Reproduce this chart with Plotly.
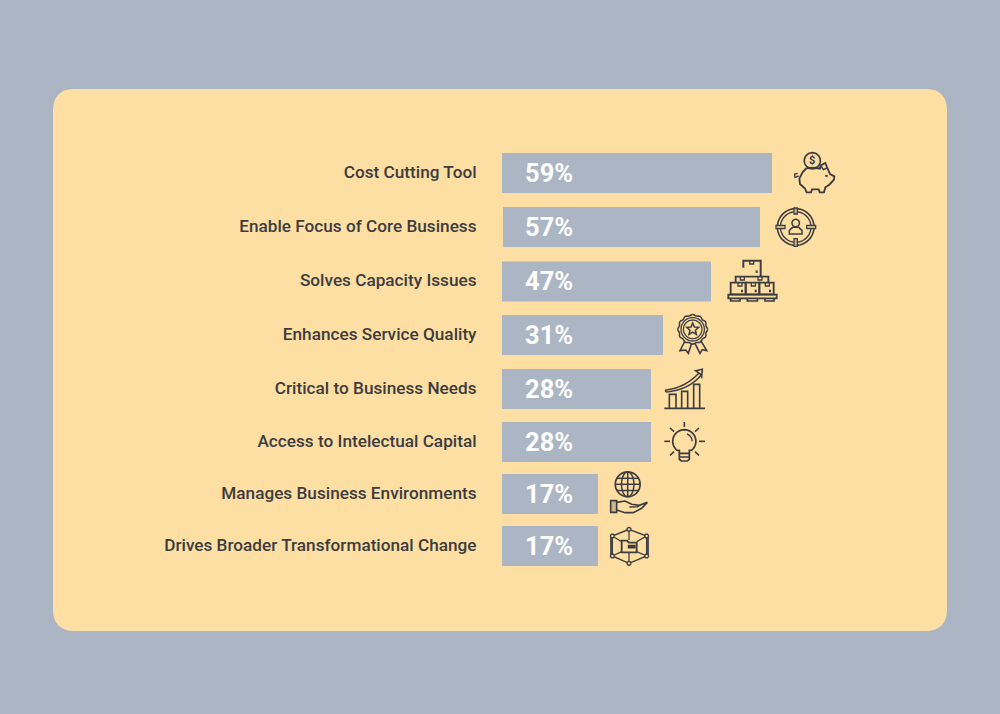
import math
import plotly.graph_objects as go

# ---- chart data ----
categories = ["Cost Cutting Tool", "Enable Focus of Core Business", "Solves Capacity Issues",
              "Enhances Service Quality", "Critical to Business Needs", "Access to Intelectual Capital",
              "Manages Business Environments", "Drives Broader Transformational Change"]
percent_labels = ["59%", "57%", "47%", "31%", "28%", "28%", "17%", "17%"]
# The bars in the picture are hand drawn and not proportional to their labels: drawn length
bar_lengths = [270, 257, 209, 161, 149, 149, 96, 96]
bar_starts = [0, 1, 0, 0, 0, 0, 0, 0]
row_centres = [173, 227, 281.5, 335, 389, 442, 494, 546]

BG = "#ACB5C4"
PANEL = "#FEDFA3"
INK = "#3C3C40"
W, H = 1000, 714


def pt(x, y):
    return f"{x / W:.5f},{1 - y / H:.5f}"


def poly(points, closed=False):
    d = "M" + " L".join(pt(x, y) for x, y in points)
    return d + (" Z" if closed else "")


def quad(p0, c, p1, n=16):
    out = []
    for i in range(n + 1):
        t = i / n
        out.append(((1 - t) ** 2 * p0[0] + 2 * t * (1 - t) * c[0] + t * t * p1[0],
                    (1 - t) ** 2 * p0[1] + 2 * t * (1 - t) * c[1] + t * t * p1[1]))
    return out


def ellipse(cx, cy, rx, ry=None, a0=0, a1=360, n=48):
    ry = rx if ry is None else ry
    return [(cx + rx * math.cos(math.radians(a0 + (a1 - a0) * i / n)),
             cy + ry * math.sin(math.radians(a0 + (a1 - a0) * i / n))) for i in range(n + 1)]


shapes = []


def panel():
    x0, x1, y0, y1, r = 53, 947, 89, 631, 22
    d = ("M" + pt(x0 + r, y0) + " L" + pt(x1 - r, y0) + " Q" + pt(x1, y0) + " " + pt(x1, y0 + r)
         + " L" + pt(x1, y1 - r) + " Q" + pt(x1, y1) + " " + pt(x1 - r, y1)
         + " L" + pt(x0 + r, y1) + " Q" + pt(x0, y1) + " " + pt(x0, y1 - r)
         + " L" + pt(x0, y0 + r) + " Q" + pt(x0, y0) + " " + pt(x0 + r, y0) + " Z")
    shapes.append(dict(type="path", xref="paper", yref="paper", path=d, fillcolor=PANEL,
                       line_width=0, layer="below"))


def stroke(points, w=1.6, closed=False, fill=None):
    shapes.append(dict(type="path", xref="paper", yref="paper", path=poly(points, closed),
                       line=dict(color=INK, width=w * 1.15), fillcolor=fill if fill else "rgba(0,0,0,0)",
                       layer="above"))


def icons():
    # --- piggy bank (zoom-crop coords, origin 770,148, scale 3)
    Z = lambda L, ox=770, oy=148: [(ox + a / 3, oy + b / 3) for a, b in L]
    stroke(Z([(110, 60), (98, 72), (88, 92), (90, 108), (105, 122), (110, 133), (123, 133), (126, 124),
              (146, 124), (149, 133), (162, 133), (166, 118), (178, 110), (192, 95), (193, 85), (180, 78),
              (172, 60), (166, 45), (152, 52), (150, 62), (140, 60)]))
    stroke(Z([(110, 60), (143, 60)]), 2)
    stroke(Z([(152, 52), (160, 65), (172, 60)]), 1.2)
    stroke(Z([(86, 84), (75, 88), (74, 78), (83, 76)]), 1.2)
    stroke(Z([(166, 82), (173, 85)]), 1.6)
    stroke(ellipse(812.3, 160.7, 8.0), 1.5)
    # --- target with person
    stroke(ellipse(795.7, 227, 18.3), 1.4)
    stroke(ellipse(795.7, 227, 15.3), 1.2)
    stroke(ellipse(795.7, 223, 3.7), 1.3)
    stroke(Z([(58, 258), (58, 247), (68, 238), (86, 238), (96, 247), (96, 258)], 770, 148), 1.3, True)
    for r in [(72, 180, 82, 198), (72, 272, 82, 295), (18, 232, 45, 242), (110, 232, 137, 242)]:
        stroke(Z([(r[0], r[1]), (r[2], r[1]), (r[2], r[3]), (r[0], r[3])]), 1.1, True, "#C9B58E")
    # --- boxes on a pallet (origin 670,255)
    B = lambda L: Z(L, 670, 255)
    stroke(B([(220, 38), (220, 17), (272, 17), (272, 65)]), 1.7)
    stroke(B([(197, 82), (197, 65), (295, 65), (295, 82)]), 1.6)
    for a, b in [(182, 227), (227, 268), (268, 311)]:
        stroke(B([(a, 83), (b, 83), (b, 118), (a, 118)]), 1.6, True)
    stroke(B([(175, 119), (320, 119), (320, 130), (175, 130)]), 1.6, True)
    for a, b in [(182, 210), (232, 262), (285, 312)]:
        stroke(B([(a, 130), (a, 138), (b, 138), (b, 130)]), 1.5)
    for a in [245, 217, 270, 210, 250, 292]:
        top = 17 if a == 245 else 65 if a in (217, 270) else 83
        stroke(B([(a - 6, top), (a - 6, top + 10), (a + 6, top + 10), (a + 6, top)]), 1.1)
    for a, b in [(260, 50), (216, 108), (257, 108), (300, 108)]:
        stroke(B([(a - 3, b), (a + 3, b)]), 2.2)
    # --- award rosette
    cx, cy = 692.7, 329.3
    scallop = [(cx + (14.3 + 0.6 * math.cos(math.radians(12 * a))) * math.cos(math.radians(a)),
                cy + (14.3 + 0.6 * math.cos(math.radians(12 * a))) * math.sin(math.radians(a)))
               for a in range(0, 361, 5)]
    stroke(scallop, 1.3)
    stroke(ellipse(cx, cy, 11.7), 1.1)
    stroke(ellipse(cx, cy, 9.3), 1.1)
    star = []
    for i in range(10):
        r = 6.3 if i % 2 == 0 else 2.9
        star.append((cx + r * math.sin(math.radians(36 * i)), cy - r * math.cos(math.radians(36 * i))))
    stroke(star, 1.3, True)
    stroke(B([(45, 258), (30, 287), (47, 285), (55, 295), (65, 265)]), 1.4)
    stroke(B([(75, 265), (90, 295), (97, 284), (110, 287), (92, 256)]), 1.4)
    # --- growth chart (origin 655,362)
    C = lambda L: Z(L, 655, 362)
    stroke(C([(28, 139), (150, 139)]), 1.5)
    for a, t, b in [(43, 97, 63), (80, 88, 98), (116, 67, 134)]:
        stroke(C([(a, 139), (a, t), (b, t), (b, 139)]), 1.4)
    stroke(C(quad((31, 84), (90, 78), (132, 33))), 1.3)
    stroke(C(quad((33, 90), (100, 84), (138, 40))), 1.3)
    stroke(C([(31, 84), (33, 90)]), 1.3)
    stroke(C([(122, 26), (142, 22), (140, 44), (136, 36), (129, 31)]), 1.4, True)
    # --- light bulb
    bx, by = 684.3, 441.3
    stroke(C([(73, 274), (73, 265)]) + [(bx + 11.6 * math.cos(math.radians(a)), by + 11.6 * math.sin(math.radians(a)))
                                         for a in range(130, 411, 10)] + C([(103, 265), (103, 274)]), 1.5)
    stroke(C([(73, 274), (103, 274), (103, 292), (97, 297), (79, 297), (73, 292)]), 1.5, True)
    stroke(C([(73, 285), (103, 285)]), 1.3)
    stroke(ellipse(bx, by, 7.8, a0=-70, a1=0, n=10), 1.2)
    for p, q in [((88, 180), (88, 195)), ((45, 198), (57, 209)), ((132, 198), (120, 209)),
                 ((28, 238), (45, 238)), ((132, 238), (150, 238)), ((45, 280), (57, 269)), ((132, 280), (120, 269))]:
        stroke(C([p, q]), 1.4)
    # --- globe in hand (origin 600,470)
    G = lambda L: Z(L, 600, 470)
    gx, gy = 627.7, 484.3
    stroke(ellipse(gx, gy, 12.4), 1.5)
    stroke(ellipse(gx, gy, 6.2, 12.4), 1.3)
    stroke([(gx, gy - 12.4), (gx, gy + 12.4)], 1.3)
    for dy, hw in [(-6, 10.8), (0, 12.4), (6.2, 10.8)]:
        stroke([(gx - hw, gy + dy), (gx + hw, gy + dy)], 1.3)
    stroke(G([(32, 92), (50, 92), (50, 127), (32, 127)]), 1.4, True, "#C9B58E")
    stroke(G([(50, 97), (75, 93), (95, 103), (118, 106), (142, 97), (125, 115), (100, 128), (75, 128), (50, 120)]), 1.4)
    stroke(G([(88, 111), (112, 110), (118, 106)]), 1.3)
    # --- network with folder
    nodes = [(87, 178), (140, 198), (140, 258), (87, 280), (37, 258), (37, 198)]
    stroke(G(nodes), 1.2, True)
    stroke(G([(33, 200), (33, 256)]), 1.5)
    stroke(G([(144, 200), (144, 256)]), 1.5)
    for p, q in [((87, 178), (87, 210)), ((87, 280), (87, 248)), ((37, 198), (65, 215)), ((140, 198), (110, 215)),
                 ((37, 258), (65, 245)), ((140, 258), (110, 245))]:
        stroke(G([p, q]), 1.1)
    for n in nodes:
        c = G([n])[0]
        stroke(ellipse(c[0], c[1], 1.9, n=16), 1.2, fill=PANEL)
    stroke(G([(65, 247), (65, 212), (82, 212), (86, 218), (110, 218), (110, 247)]), 1.6, True, PANEL)
    stroke(G([(85, 226), (105, 226), (105, 234), (85, 234)]), 1.0, True, INK)


panel()
icons()

fig = go.Figure()
fig.add_trace(go.Bar(y=row_centres, x=bar_lengths, base=bar_starts, orientation="h", width=40,
                     marker=dict(color=BG, line_width=0), hoverinfo="skip"))
fig.add_trace(go.Scatter(y=[c + 2.5 for c in row_centres], x=[23] * len(percent_labels), mode="text",
                         text=percent_labels, textposition="middle right",
                         textfont=dict(family="Roboto", size=25.5, color="white", weight=700), hoverinfo="skip"))

fig.add_annotation(xref="paper", yref="paper", x=812.3 / W, y=1 - 160.7 / H, text="<b>$</b>", showarrow=False,
                   xanchor="center", yanchor="middle", borderpad=0,
                   font=dict(family="Roboto", size=11, color=INK))

fig.update_layout(
    width=W, height=H, margin=dict(l=0, r=0, t=0, b=0), autosize=False,
    paper_bgcolor=BG, plot_bgcolor="rgba(0,0,0,0)", showlegend=False, shapes=shapes,
    xaxis=dict(domain=[0.502, 1], range=[0, 498], visible=False, fixedrange=True),
    yaxis=dict(range=[714, 0], tickmode="array", tickvals=[c - 1.2 for c in row_centres], ticktext=categories,
               showgrid=False, zeroline=False, showline=False, ticks="outside", ticklen=21,
               tickcolor="rgba(0,0,0,0)", fixedrange=True,
               tickfont=dict(family="Roboto", size=17.2, color=INK, weight=500)),
)
fig.write_html("out.html", config={"displayModeBar": False},
               post_script="document.body.style.margin='0';document.documentElement.style.overflow='hidden';document.body.style.background='" + BG + "';")
